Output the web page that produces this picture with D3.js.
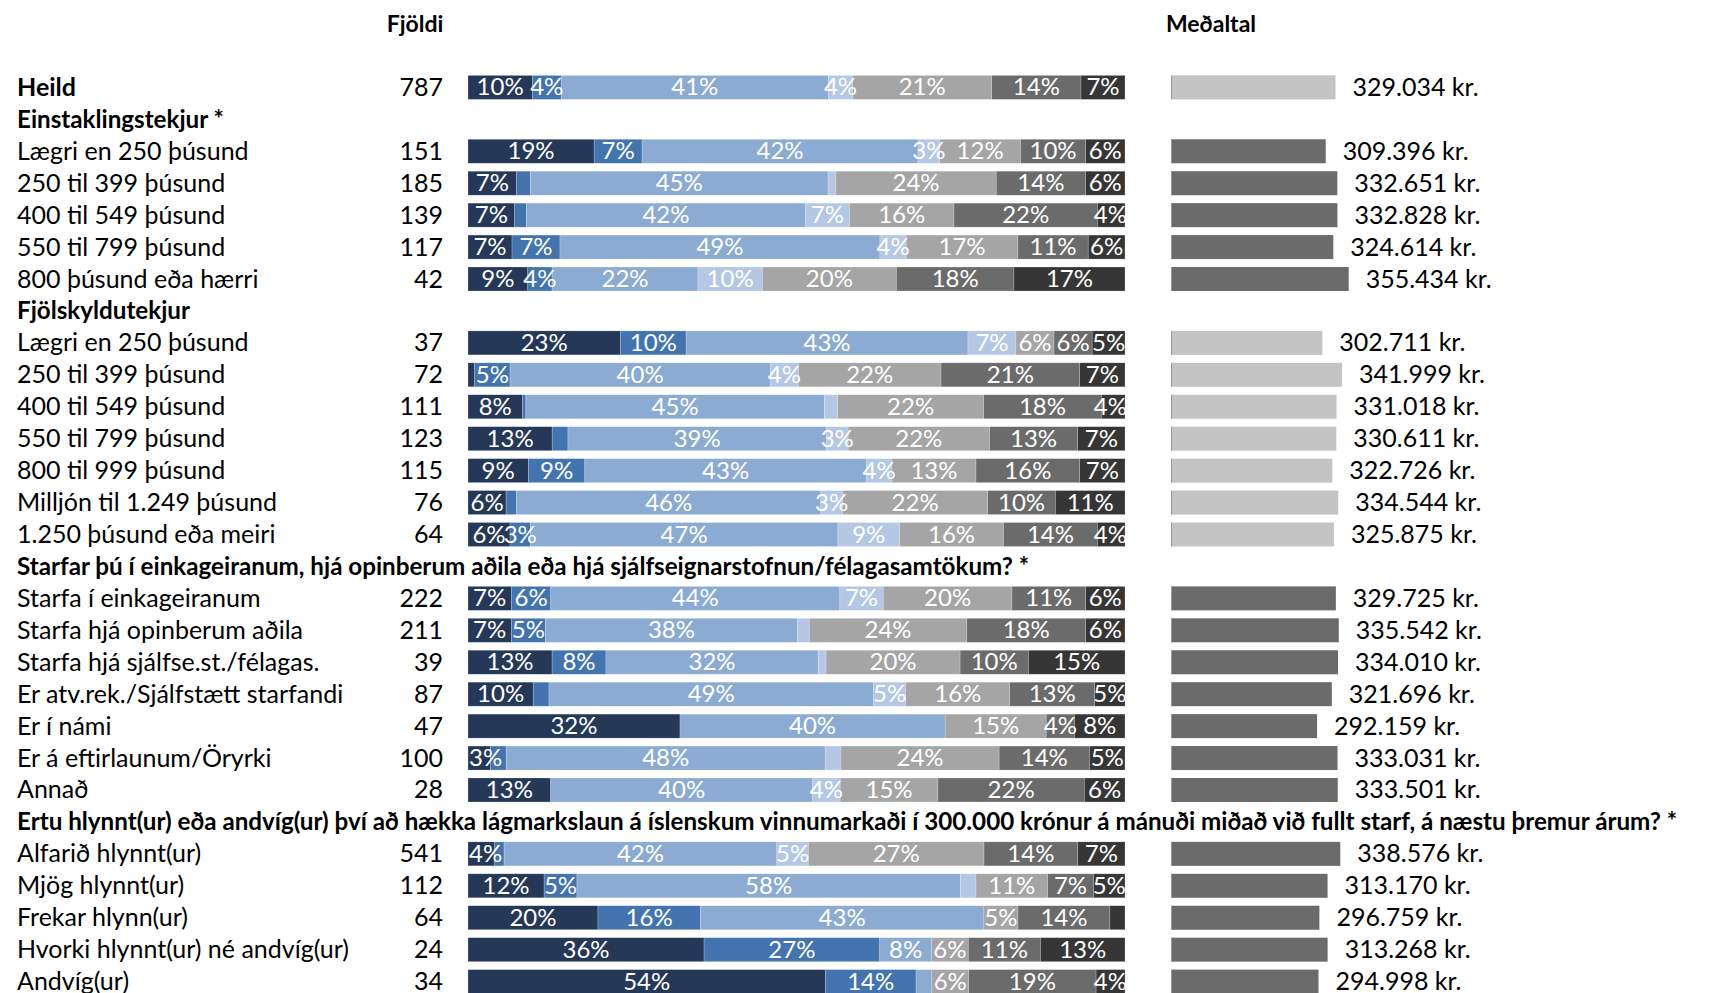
<!DOCTYPE html>
<html>
<head>
<meta charset="utf-8">
<script src="https://cdn.jsdelivr.net/npm/d3@7"></script>
<style>
  html, body { margin: 0; padding: 0; background: #ffffff; }
  svg { display: block; }
  text { font-family: Lato, "Open Sans", sans-serif; }
</style>
</head>
<body>
<svg id="chart" width="1714" height="993"></svg>
<script>
// ---------- DATA ----------
const rowLabels = [
  "Heild",
  "Einstaklingstekjur *",
  "Lægri en 250 þúsund",
  "250 til 399 þúsund",
  "400 til 549 þúsund",
  "550 til 799 þúsund",
  "800 þúsund eða hærri",
  "Fjölskyldutekjur",
  "Lægri en 250 þúsund",
  "250 til 399 þúsund",
  "400 til 549 þúsund",
  "550 til 799 þúsund",
  "800 til 999 þúsund",
  "Milljón til 1.249 þúsund",
  "1.250 þúsund eða meiri",
  "Starfar þú í einkageiranum, hjá opinberum aðila eða hjá sjálfseignarstofnun/félagasamtökum? *",
  "Starfa í einkageiranum",
  "Starfa hjá opinberum aðila",
  "Starfa hjá sjálfse.st./félagas.",
  "Er atv.rek./Sjálfstætt starfandi",
  "Er í námi",
  "Er á eftirlaunum/Öryrki",
  "Annað",
  "Ertu hlynnt(ur) eða andvíg(ur) því að hækka lágmarkslaun á íslenskum vinnumarkaði í 300.000 krónur á mánuði miðað við fullt starf, á næstu þremur árum? *",
  "Alfarið hlynnt(ur)",
  "Mjög hlynnt(ur)",
  "Frekar hlynn(ur)",
  "Hvorki hlynnt(ur) né andvíg(ur)",
  "Andvíg(ur)"
];

// "total", "header" or "row"
const rowKinds = [
  "total", "header", "row", "row", "row", "row", "row",
  "header", "row", "row", "row", "row", "row", "row", "row",
  "header", "row", "row", "row", "row", "row", "row", "row",
  "header", "row", "row", "row", "row", "row"
];

const counts = [787, null, 151, 185, 139, 117, 42, null, 37, 72, 111, 123, 115, 76, 64,
  null, 222, 211, 39, 87, 47, 100, 28, null, 541, 112, 64, 24, 34];

// seven answer categories (percent of row)
const seg1 = [9.8, null, 19.2, 7.4, 7.1, 6.7, 9.1, null, 23.2, 1.0, 8.3, 12.8, 9.2, 5.8, 6.4,
  null, 6.6, 6.6, 12.8, 9.9, 32.3, 3.4, 12.6, null, 4.0, 11.6, 19.8, 36.0, 54.4];
const seg2 = [4.4, null, 7.3, 2.1, 1.8, 7.3, 3.7, null, 10.0, 5.4, 0.5, 2.4, 8.6, 1.6, 3.1,
  null, 6.0, 5.2, 8.2, 2.4, 0, 2.4, 0, null, 1.5, 5.0, 15.6, 26.8, 13.8];
const seg3 = [40.7, null, 42.0, 45.3, 42.4, 48.7, 22.2, null, 42.9, 39.6, 45.4, 39.3, 42.9, 46.3, 46.8,
  null, 44.0, 38.4, 32.3, 49.3, 40.4, 48.4, 39.9, null, 41.6, 58.4, 43.2, 7.9, 2.4];
const seg4 = [3.7, null, 3.3, 1.2, 6.7, 4.0, 9.8, null, 7.3, 4.3, 2.0, 3.3, 3.9, 3.3, 9.4,
  null, 6.6, 1.8, 1.2, 4.9, 0, 2.4, 4.2, null, 4.8, 2.4, 0, 0, 0];
const seg5 = [21.2, null, 12.3, 24.4, 15.9, 17.0, 20.4, null, 5.8, 21.7, 22.2, 21.5, 12.8, 22.1, 15.8,
  null, 19.6, 24.0, 20.4, 15.8, 15.4, 24.0, 14.9, null, 26.8, 10.9, 5.2, 5.6, 5.6];
const seg6 = [13.6, null, 9.9, 13.6, 21.8, 10.7, 17.9, null, 5.8, 21.1, 17.9, 13.4, 15.8, 10.3, 14.3,
  null, 11.2, 18.1, 10.4, 12.9, 4.3, 13.7, 22.3, null, 14.3, 7.0, 14.0, 11.0, 19.4];
const seg7 = [6.7, null, 6.0, 6.0, 4.2, 5.6, 16.9, null, 5.0, 6.9, 3.6, 7.2, 6.9, 10.6, 4.2,
  null, 6.0, 6.0, 14.7, 4.6, 7.7, 5.4, 6.2, null, 7.2, 4.8, 2.3, 12.9, 4.4];

const means = [329034, null, 309396, 332651, 332828, 324614, 355434, null,
  302711, 341999, 331018, 330611, 322726, 334544, 325875, null,
  329725, 335542, 334010, 321696, 292159, 333031, 333501, null,
  338576, 313170, 296759, 313268, 294998];

const columnTitles = ["Fjöldi", "Meðaltal"];
const segColors = ["#253858", "#4374b0", "#8babd3", "#b4c7e4", "#a5a5a5", "#6b6b6b", "#363636"];
const meanColors = { light: "#c4c4c4", dark: "#6b6b6b" };

// ---------- BUILD ----------
const segKeys = ["s1", "s2", "s3", "s4", "s5", "s6", "s7"];
const segArrays = [seg1, seg2, seg3, seg4, seg5, seg6, seg7];

// shade of mean bar: groups whose header ends with "*" are dark
let shade = "light";
const rows = rowLabels.map((label, i) => {
  if (rowKinds[i] === "header") shade = label.trim().endsWith("*") ? "dark" : "light";
  const r = { i, label, kind: rowKinds[i], count: counts[i], mean: means[i],
              shade: rowKinds[i] === "total" ? "light" : shade };
  segKeys.forEach((k, j) => { r[k] = segArrays[j][i]; });
  return r;
});
const dataRows = rows.filter(r => r.kind !== "header");

const svg = d3.select("#chart");
const FS = 25;
const HFS = 24.2;
const PFS = 24;

const y = d3.scalePoint().domain(rows.map(r => r.i)).range([87.4, 981.6]);
const barH = 24;
const xPct = d3.scaleLinear().domain([0, 1]).range([468, 1125]);
const xMean = d3.scaleLinear().domain([0, 400000]).range([1171, 1371]);
const color = d3.scaleOrdinal().domain(segKeys).range(segColors);

// column titles
svg.append("text").attr("x", 415).attr("y", 32).attr("text-anchor", "middle")
  .attr("font-size", 23).attr("font-weight", "bold").text(columnTitles[0]);
svg.append("text").attr("x", 1211).attr("y", 32).attr("text-anchor", "middle")
  .attr("font-size", 23).attr("font-weight", "bold").text(columnTitles[1]);

// row labels
svg.append("g").selectAll("text").data(rows).join("text")
  .attr("x", 17).attr("y", d => y(d.i) + 8.5)
  .attr("font-size", d => d.kind === "header" ? HFS : FS)
  .attr("font-weight", d => d.kind === "row" ? "normal" : "bold")
  .attr("fill", "#000")
  .text(d => d.label);

// counts
svg.append("g").selectAll("text").data(dataRows).join("text")
  .attr("x", 443).attr("y", d => y(d.i) + 8.5)
  .attr("text-anchor", "end").attr("font-size", FS).attr("fill", "#000")
  .text(d => d.count);

// stacked bars (normalised per row)
const stack = d3.stack().keys(segKeys).offset(d3.stackOffsetExpand);
const series = stack(dataRows.map(r => { const o = { i: r.i }; segKeys.forEach(k => o[k] = r[k] || 0); return o; }));
series.forEach(s => s.forEach(p => { p.value = p.data[s.key]; }));

const gBars = svg.append("g");
series.forEach(s => {
  gBars.append("g").attr("fill", color(s.key)).selectAll("rect").data(s).join("rect")
    .attr("x", d => xPct(d[0]))
    .attr("y", d => y(d.data.i) - barH / 2)
    .attr("width", d => Math.max(0, xPct(d[1]) - xPct(d[0])))
    .attr("height", barH)
    .attr("stroke", "#ffffff").attr("stroke-opacity", 0.35).attr("stroke-width", 0.6);
});
series.forEach(s => {
  gBars.append("g").selectAll("text").data(s.filter(d => Math.round(d.value) >= 3)).join("text")
    .attr("y", d => y(d.data.i) + 8)
    .attr("text-anchor", "middle").attr("font-size", PFS).attr("fill", "#ffffff")
    .text(d => Math.round(d.value) + "%")
    .attr("x", function(d) {
      const w = this.getComputedTextLength();
      const c = (xPct(d[0]) + xPct(d[1])) / 2;
      const lo = xPct.range()[0] + w / 2 + 1, hi = xPct.range()[1] - w / 2 + 2;
      return Math.min(hi, Math.max(lo, c));
    });
});

// mean bars
const gMean = svg.append("g");
gMean.selectAll("rect").data(dataRows).join("rect")
  .attr("x", xMean(0)).attr("y", d => y(d.i) - barH / 2)
  .attr("width", d => xMean(d.mean) - xMean(0)).attr("height", barH)
  .attr("fill", d => meanColors[d.shade]);
gMean.selectAll("line").data(dataRows).join("line")
  .attr("x1", xMean(0) + 0.5).attr("x2", xMean(0) + 0.5)
  .attr("y1", d => y(d.i) - barH / 2).attr("y2", d => y(d.i) + barH / 2)
  .attr("stroke", "#9a9a9a").attr("stroke-width", 1);
const fmt = v => d3.format(",")(v).replace(/,/g, ".") + " kr.";
gMean.selectAll("text").data(dataRows).join("text")
  .attr("x", d => xMean(d.mean) + 17).attr("y", d => y(d.i) + 8.5)
  .attr("font-size", FS).attr("fill", "#000")
  .text(d => fmt(d.mean));
</script>
</body>
</html>
